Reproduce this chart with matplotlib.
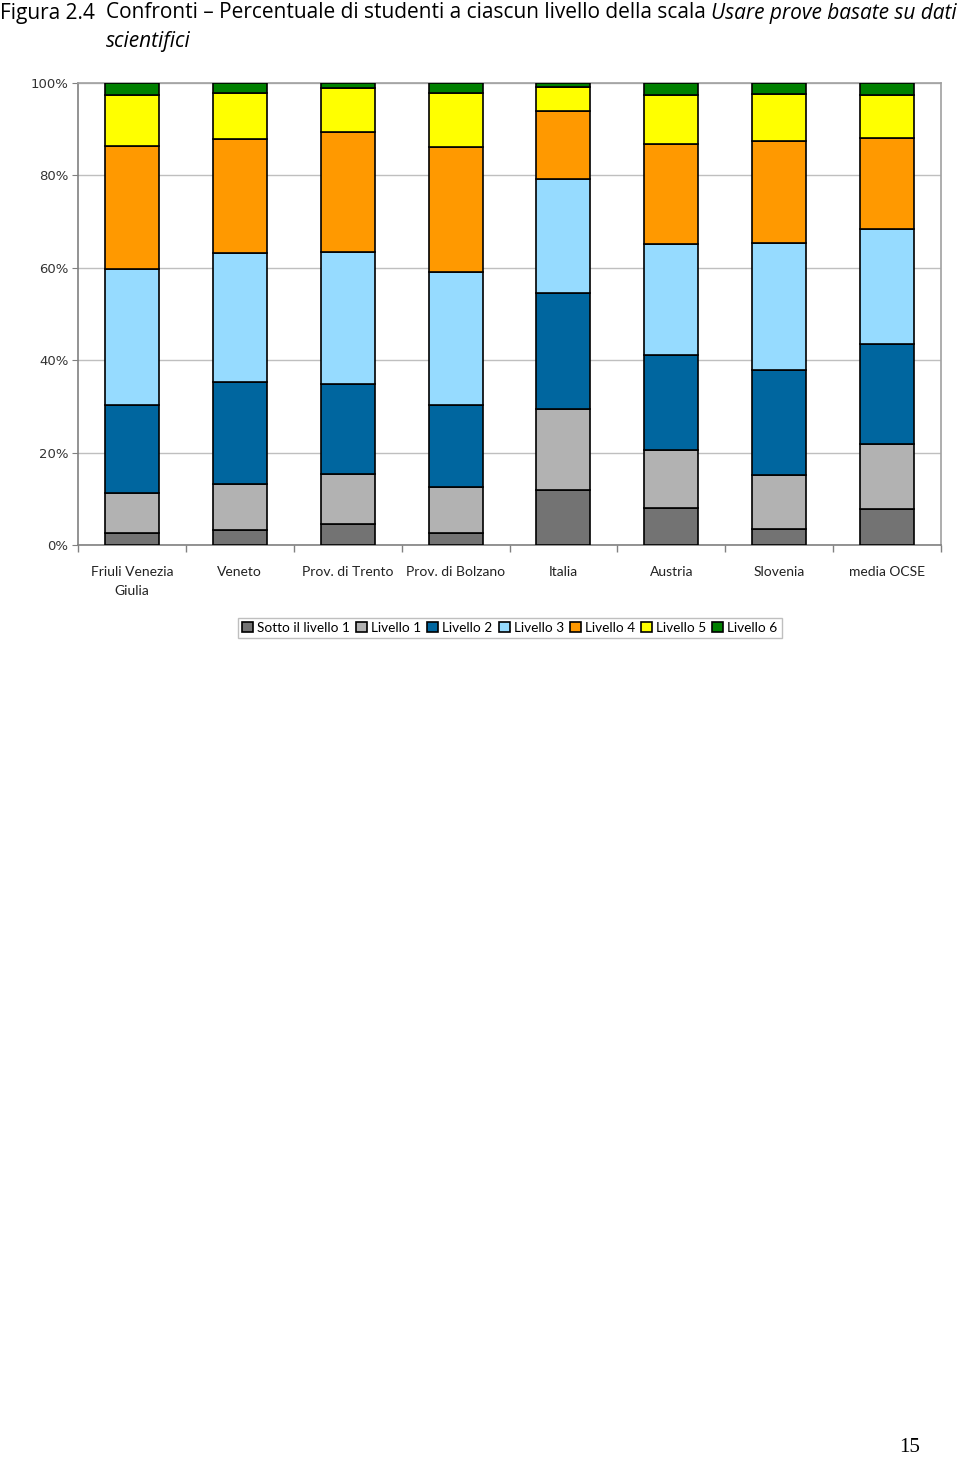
import matplotlib
matplotlib.use("Agg")
import matplotlib.pyplot as plt
import numpy as np
from matplotlib.ticker import FixedLocator, FuncFormatter

categories = ["Friuli Venezia\nGiulia", "Veneto", "Prov. di Trento", "Prov. di Bolzano",
              "Italia", "Austria", "Slovenia", "media OCSE"]
series_names = ["Sotto il livello 1", "Livello 1", "Livello 2", "Livello 3",
                "Livello 4", "Livello 5", "Livello 6"]
sotto = [2.7, 3.2, 4.6, 2.7, 11.8, 8.0, 3.4, 7.7]
liv1 = [8.5, 10.1, 10.8, 9.8, 17.7, 12.6, 11.7, 14.2]
liv2 = [19.2, 21.9, 19.5, 17.7, 25.1, 20.5, 22.7, 21.7]
liv3 = [29.5, 27.9, 28.6, 28.9, 24.6, 24.0, 27.5, 24.8]
liv4 = [26.5, 24.8, 25.8, 27.1, 14.8, 21.8, 22.2, 19.8]
liv5 = [11.1, 9.9, 9.6, 11.6, 5.1, 10.6, 10.2, 9.2]
liv6 = [2.6, 2.2, 1.1, 2.2, 0.9, 2.5, 2.3, 2.6]
yticks = [0, 20, 40, 60, 80, 100]

colors = ["#737373", "#B2B2B2", "#00669F", "#96DBFF", "#FF9900", "#FFFF00", "#008000"]

fig = plt.figure(figsize=(9.6, 14.57), dpi=100)
ax = fig.add_axes([78/960, 1-545/1457, (941-78)/960, (545-83)/1457])

data = np.array([sotto, liv1, liv2, liv3, liv4, liv5, liv6])
totals = data.sum(axis=0)
data = data / totals * 100
x = np.arange(len(categories))
bottom = np.zeros(len(categories))
handles = []
for vals, name, c in zip(data, series_names, colors):
    h = ax.bar(x, vals, bottom=bottom, width=0.5, color=c, edgecolor="black",
               linewidth=1.2, label=name, zorder=3)
    handles.append(h)
    bottom += vals

ax.set_xlim(-0.5, len(categories) - 0.5)
ax.set_ylim(0, 100)
ax.yaxis.set_major_locator(FixedLocator(yticks))
ax.yaxis.set_major_formatter(FuncFormatter(lambda v, p: f"{int(v)}%"))
ax.grid(axis="y", color="#BFBFBF", linewidth=1, zorder=0)
for s in ["top", "right"]:
    ax.spines[s].set_color("#A0A0A0")
    ax.spines[s].set_linewidth(1.2)
for s in ["left", "bottom"]:
    ax.spines[s].set_color("#808080")
    ax.spines[s].set_linewidth(1.2)
ax.set_xticks(x)
ax.set_xticklabels(categories, fontsize=10, family="Lato", linespacing=1.75)
ax.set_xticks(np.arange(-0.5, len(categories) + 0.5, 1), minor=True)
ax.tick_params(axis="x", which="major", length=0, pad=15, colors="#222222")
ax.tick_params(axis="x", which="minor", length=5, color="#808080", width=1)
ax.tick_params(axis="y", length=4, color="#808080", labelsize=9.5, pad=3)
for lab in ax.get_yticklabels():
    lab.set_color("#333333")
for lab in ax.get_xticklabels():
    lab.set_color("#222222")

leg = fig.legend(handles=handles, labels=series_names, loc="center",
                 bbox_to_anchor=(510/960, 1-628/1457), ncol=7,
                 prop={"family": "Lato", "size": 9.8},
                 handlelength=0.8, handleheight=0.8, handletextpad=0.3,
                 columnspacing=0.45, borderpad=0.3, fancybox=False, frameon=True,
                 edgecolor="#B0B0B0")
leg.get_frame().set_linewidth(1)

# Title
fig.canvas.draw()
r = fig.canvas.get_renderer()
ty = 1 - 13/1457
tfont = dict(family="Open Sans", size=15, va="center")
t0 = fig.text(0/960, ty, "Figura 2.4", **tfont)
t1 = fig.text(106/960, ty, "Confronti \u2013 Percentuale di studenti a ciascun livello della scala ", **tfont)
fig.canvas.draw()
bb = t1.get_window_extent(r)
t2 = fig.text(bb.x1/960, ty, "Usare prove basate su dati", style="italic", **tfont)
t3 = fig.text(106/960, 1 - 41/1457, "scientifici", style="italic", **tfont)

fig.text(910/960, 1 - 1447/1457, "15", family="Liberation Serif", size=15,
         ha="center", va="center")

fig.savefig("out.png", dpi=100)
